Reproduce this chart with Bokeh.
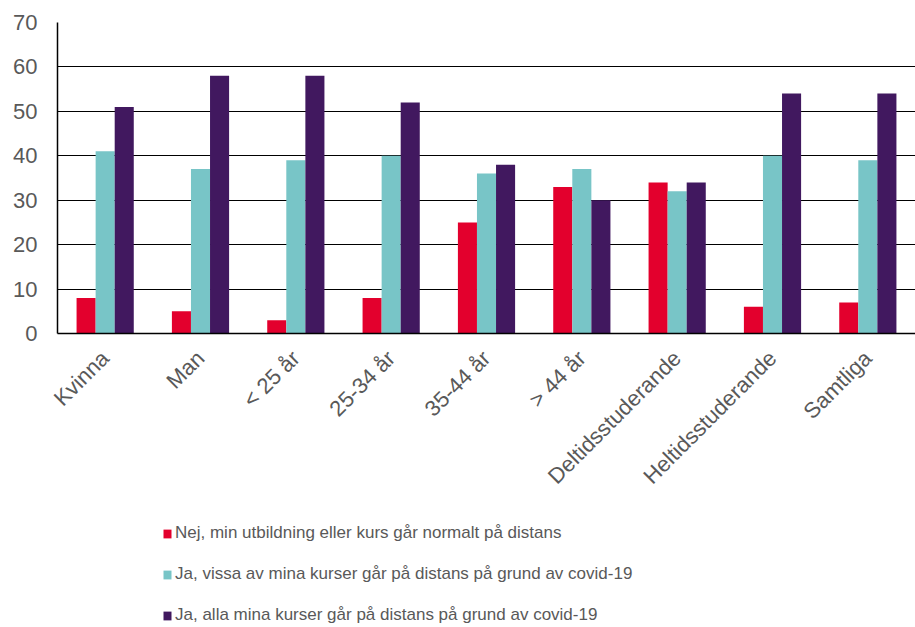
from bokeh.plotting import figure
from bokeh.models import FactorRange, Range1d, FixedTicker, Legend, LegendItem, ColumnDataSource
from bokeh.layouts import column
from bokeh.transform import dodge
from bokeh.embed import file_html
from bokeh.resources import INLINE

categories = ["Kvinna", "Man", "< 25 år", "25-34 år", "35-44 år", "> 44 år",
              "Deltidsstuderande", "Heltidsstuderande", "Samtliga"]
nej = [8, 5, 3, 8, 25, 33, 34, 6, 7]
ja_vissa = [41, 37, 39, 40, 36, 37, 32, 40, 39]
ja_alla = [51, 58, 58, 52, 38, 30, 34, 54, 54]
series_labels = [
    "Nej, min utbildning eller kurs går normalt på distans",
    "Ja, vissa av mina kurser går på distans på grund av covid-19",
    "Ja, alla mina kurser går på distans på grund av covid-19",
]
colors = ["#E3002D", "#78C5C7", "#41185F"]
y_ticks = [0, 10, 20, 30, 40, 50, 60, 70]

src = ColumnDataSource(dict(cat=categories, nej=nej, vissa=ja_vissa, alla=ja_alla))

p = figure(x_range=FactorRange(*categories, range_padding=0), y_range=Range1d(0, 70),
           width=915, height=500, output_backend="svg", toolbar_location=None,
           min_border_left=57, min_border_right=0, min_border_top=22, min_border_bottom=165)

for field, off, col in zip(["nej", "vissa", "alla"], [-0.2, 0.0, 0.2], colors):
    p.vbar(x=dodge("cat", off, range=p.x_range), top=field, width=0.2, source=src,
           fill_color=col, line_color=None)

p.outline_line_color = None
p.xgrid.grid_line_color = None
p.ygrid.grid_line_color = "#000000"
p.ygrid.grid_line_width = 1
p.yaxis.ticker = FixedTicker(ticks=y_ticks)
p.yaxis.minor_tick_line_color = None
p.yaxis.major_tick_line_color = None
p.yaxis.major_tick_out = 0
p.yaxis.major_label_standoff = 20
p.yaxis.axis_line_color = "#000000"
p.yaxis.axis_line_width = 1.5
p.xaxis.axis_line_color = "#000000"
p.xaxis.axis_line_width = 1.5
p.xaxis.major_tick_line_color = None
p.xaxis.major_tick_out = 0
p.xaxis.major_label_standoff = 21
p.xaxis.major_label_orientation = 0.785398
for ax in (p.xaxis, p.yaxis):
    ax.major_label_text_font = "Liberation Sans"
    ax.major_label_text_font_size = "22px"
    ax.major_label_text_color = "#595959"

# legend panel (its renderers are hidden; they only supply the legend swatches)
lg = figure(x_range=Range1d(0, 100), y_range=Range1d(0, 100), width=915, height=127,
            output_backend="svg", toolbar_location=None,
            min_border_left=57, min_border_right=0, min_border_top=0, min_border_bottom=0)
lg.axis.visible = False
lg.grid.grid_line_color = None
lg.outline_line_color = None
items = []
for field, lab, col in zip(["nej", "vissa", "alla"], series_labels, colors):
    r = lg.vbar(x=field, top=field, width=1, source=src, fill_color=col, line_color=None,
                visible=False)
    items.append(LegendItem(label=lab, renderers=[r]))
legend = Legend(items=items, location=(105, 2), orientation="vertical",
                glyph_width=10, glyph_height=11, label_height=20, spacing=21,
                padding=0, margin=0, label_standoff=3, click_policy="none",
                label_text_font="Liberation Sans", label_text_font_size="17px",
                label_text_color="#595959", border_line_color=None, background_fill_alpha=0)
lg.add_layout(legend, "center")

layout = column(p, lg, spacing=0)
open("out.html", "w").write(file_html(layout, INLINE))
